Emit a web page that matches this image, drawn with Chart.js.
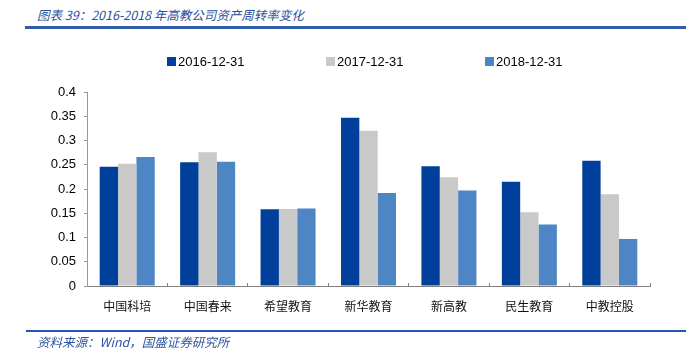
<!DOCTYPE html>
<html>
<head>
<meta charset="utf-8">
<script src="https://cdn.jsdelivr.net/npm/chart.js@4"></script>
<style>
  html, body { margin: 0; padding: 0; background: #fff; }
  body { width: 686px; height: 358px; position: relative; overflow: hidden; }
  #wrap { position: absolute; left: 0; top: 0; width: 686px; height: 358px; }
  .title { position: absolute; left: 37px; top: 5px; font: italic 12.5px "Noto Sans CJK SC", sans-serif; color: #2E4F9A; white-space: nowrap; }
  .tline { position: absolute; left: 25px; top: 26px; width: 661px; height: 3px; background: #2F5DAA; }
  .fline { position: absolute; left: 26px; top: 330px; width: 660px; height: 2px; background: #2157AE; }
  .foot { position: absolute; left: 37px; top: 332px; font: italic 12.5px "Noto Sans CJK SC", sans-serif; color: #2E55A0; white-space: nowrap; }
  .lg { position: absolute; top: 54px; font: 13px "Liberation Sans", Arial, sans-serif; color: #000; white-space: nowrap; line-height: 16px; }
  .lg i { display: inline-block; width: 9px; height: 9px; margin-right: 2px; vertical-align: 0px; }
</style>
</head>
<body>
<div class="title">图表 39：2016-2018 年高教公司资产周转率变化</div>
<div class="tline"></div>
<div id="wrap"><canvas id="c" width="686" height="358"></canvas></div>
<div id="legend"></div>
<div class="fline"></div>
<div class="foot">资料来源：Wind，国盛证券研究所</div>
<script>
const categories = ['中国科培', '中国春来', '希望教育', '新华教育', '新高教', '民生教育', '中教控股'];
const seriesNames = ['2016-12-31', '2017-12-31', '2018-12-31'];
const values2016 = [0.246, 0.255, 0.158, 0.347, 0.247, 0.215, 0.258];
const values2017 = [0.252, 0.276, 0.159, 0.320, 0.224, 0.152, 0.189];
const values2018 = [0.266, 0.256, 0.160, 0.192, 0.197, 0.127, 0.097];
const yTicks = [0, 0.05, 0.1, 0.15, 0.2, 0.25, 0.3, 0.35, 0.4];
const colors = ['#00409A', '#C9C9C9', '#4E85C5'];

const seriesValues = [values2016, values2017, values2018];

const chart = new Chart(document.getElementById('c'), {
  type: 'bar',
  data: {
    labels: categories,
    datasets: seriesNames.map((n, i) => ({
      label: n,
      data: seriesValues[i],
      backgroundColor: colors[i],
      borderWidth: 0,
      categoryPercentage: 0.684,
      barPercentage: 1.0
    }))
  },
  options: {
    responsive: false,
    animation: false,
    layout: { padding: { left: 10, right: 36, top: 92, bottom: 42 } },
    plugins: { legend: { display: false }, tooltip: { enabled: false } },
    scales: {
      x: {
        grid: { display: true, drawOnChartArea: false, drawTicks: true, tickLength: -3, color: '#808080', offset: true },
        border: { display: true, color: '#808080', width: 1 },
        ticks: { padding: 16, color: '#111', font: { family: '"Noto Sans CJK SC", sans-serif', size: 12 } },
        afterFit: s => { s.height = 30; }
      },
      y: {
        min: 0, max: 0.4,
        afterBuildTicks: s => { s.ticks = yTicks.map(v => ({ value: v })); },
        grid: { display: true, drawOnChartArea: false, drawTicks: true, tickLength: 3, color: '#999999' },
        border: { display: true, color: '#999999', width: 1 },
        ticks: { padding: 8, color: '#000', font: { family: '"Liberation Sans", Arial, sans-serif', size: 13 },
                 callback: v => String(+v.toFixed(2)) },
        afterFit: s => { s.width = 77; }
      }
    }
  }
});

const legendX = [167, 326, 485];
const lg = document.getElementById('legend');
seriesNames.forEach((n, i) => {
  const d = document.createElement('div');
  d.className = 'lg';
  d.style.left = legendX[i] + 'px';
  d.innerHTML = '<i style="background:' + colors[i] + '"></i>' + n;
  lg.appendChild(d);
});
</script>
</body>
</html>
